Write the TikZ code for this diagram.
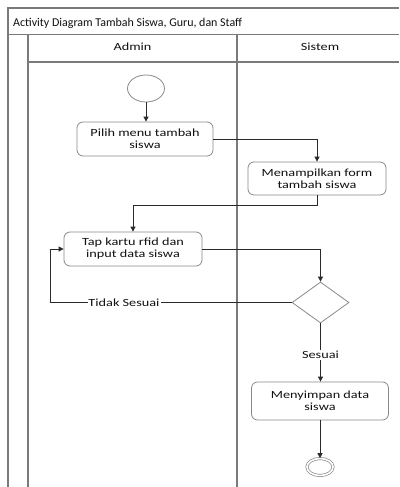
\documentclass[tikz,border=0pt]{standalone}
\usepackage{fontspec}
\setmainfont[FakeStretch=1.3]{Carlito}
\newfontfamily\titlefont{Carlito}
\usetikzlibrary{shapes.geometric,arrows.meta}
\definecolor{framec}{HTML}{7A7A7A}
\definecolor{boxc}{HTML}{8A8A8A}
\definecolor{linec}{HTML}{2A2A2A}
\definecolor{textc}{HTML}{111111}
\tikzset{
  frameline/.style={draw=framec,line width=1.1bp},
  actbox/.style={draw=boxc,line width=0.8bp,rounded corners=6bp,align=center,inner sep=0pt,
    font=\fontsize{11}{12}\selectfont,text=textc},
  flow/.style={draw=linec,line width=0.9bp,-{Triangle[length=5bp,width=5bp]}},
  lbl/.style={fill=white,inner sep=1pt,font=\fontsize{11}{12}\selectfont,text=textc},
  hdr/.style={font=\fontsize{11}{12}\selectfont,text=textc,anchor=base,inner sep=0pt},
}
\begin{document}
\begin{tikzpicture}[x=1bp,y=-1bp]
\useasboundingbox[fill=white] (0,0) rectangle (399,487);
% frame
\draw[frameline] (8,487) -- (8,8) -- (399,8);
\draw[frameline] (8,34.5) -- (399,34.5);
\draw[frameline] (28,34.5) -- (28,487);
\draw[frameline] (28,62) -- (399,62);
\draw[frameline] (237,34.5) -- (237,487);
\node[anchor=base west,inner sep=0pt,text=textc,font=\titlefont\fontsize{12}{13}\selectfont] (title) at (13,26.5) {Activity Diagram Tambah Siswa, Guru, dan Staff};
\node[hdr] (admin) at (132.5,51) {Admin};
\node[hdr] (sistem) at (320,51) {Sistem};
% nodes
\node[draw=boxc,line width=0.8bp,ellipse,minimum width=37bp,minimum height=27bp,inner sep=0pt] (start) at (146,88.5) {};
\node[actbox,minimum width=136bp,minimum height=34bp] (pilih) at (145,139) {Pilih menu tambah\\siswa};
\node[actbox,minimum width=138bp,minimum height=33bp] (tampil) at (317,178.5) {Menampilkan form\\tambah siswa};
\node[actbox,minimum width=138bp,minimum height=34bp] (tap) at (133,249) {Tap kartu rfid dan\\input data siswa};
\node[draw=boxc,line width=0.8bp,diamond,minimum width=57bp,minimum height=41bp,inner sep=0pt,aspect=1.39] (dec) at (320.5,302.5) {};
\node[actbox,minimum width=137bp,minimum height=38bp] (save) at (320,401) {Menyimpan data\\siswa};
\node[draw=boxc,line width=0.7bp,double,double distance=1.6bp,ellipse,minimum width=26bp,minimum height=17bp,inner sep=0pt] (end) at (320,467) {};
% connectors
\coordinate (k1) at (50,302.5);
\draw[flow] (start.south) -- (start.south |- pilih.north);
\draw[flow] (pilih.east) -| (tampil.north);
\draw[flow] (tampil.south) -- ++(0,10) -| (tap.north);
\draw[flow] (tap.east) -| (dec.north);
\draw[flow] (dec.west) -- (k1) |- (tap.west);
\node[lbl] (tidak) at (124,302.5) {Tidak Sesuai};
\draw[flow] (dec.south) -- (dec.south |- save.north);
\node[lbl] (sesuai) at (320.5,355) {Sesuai};
\draw[flow] (save.south) -- (end.north);
\end{tikzpicture}
\end{document}
